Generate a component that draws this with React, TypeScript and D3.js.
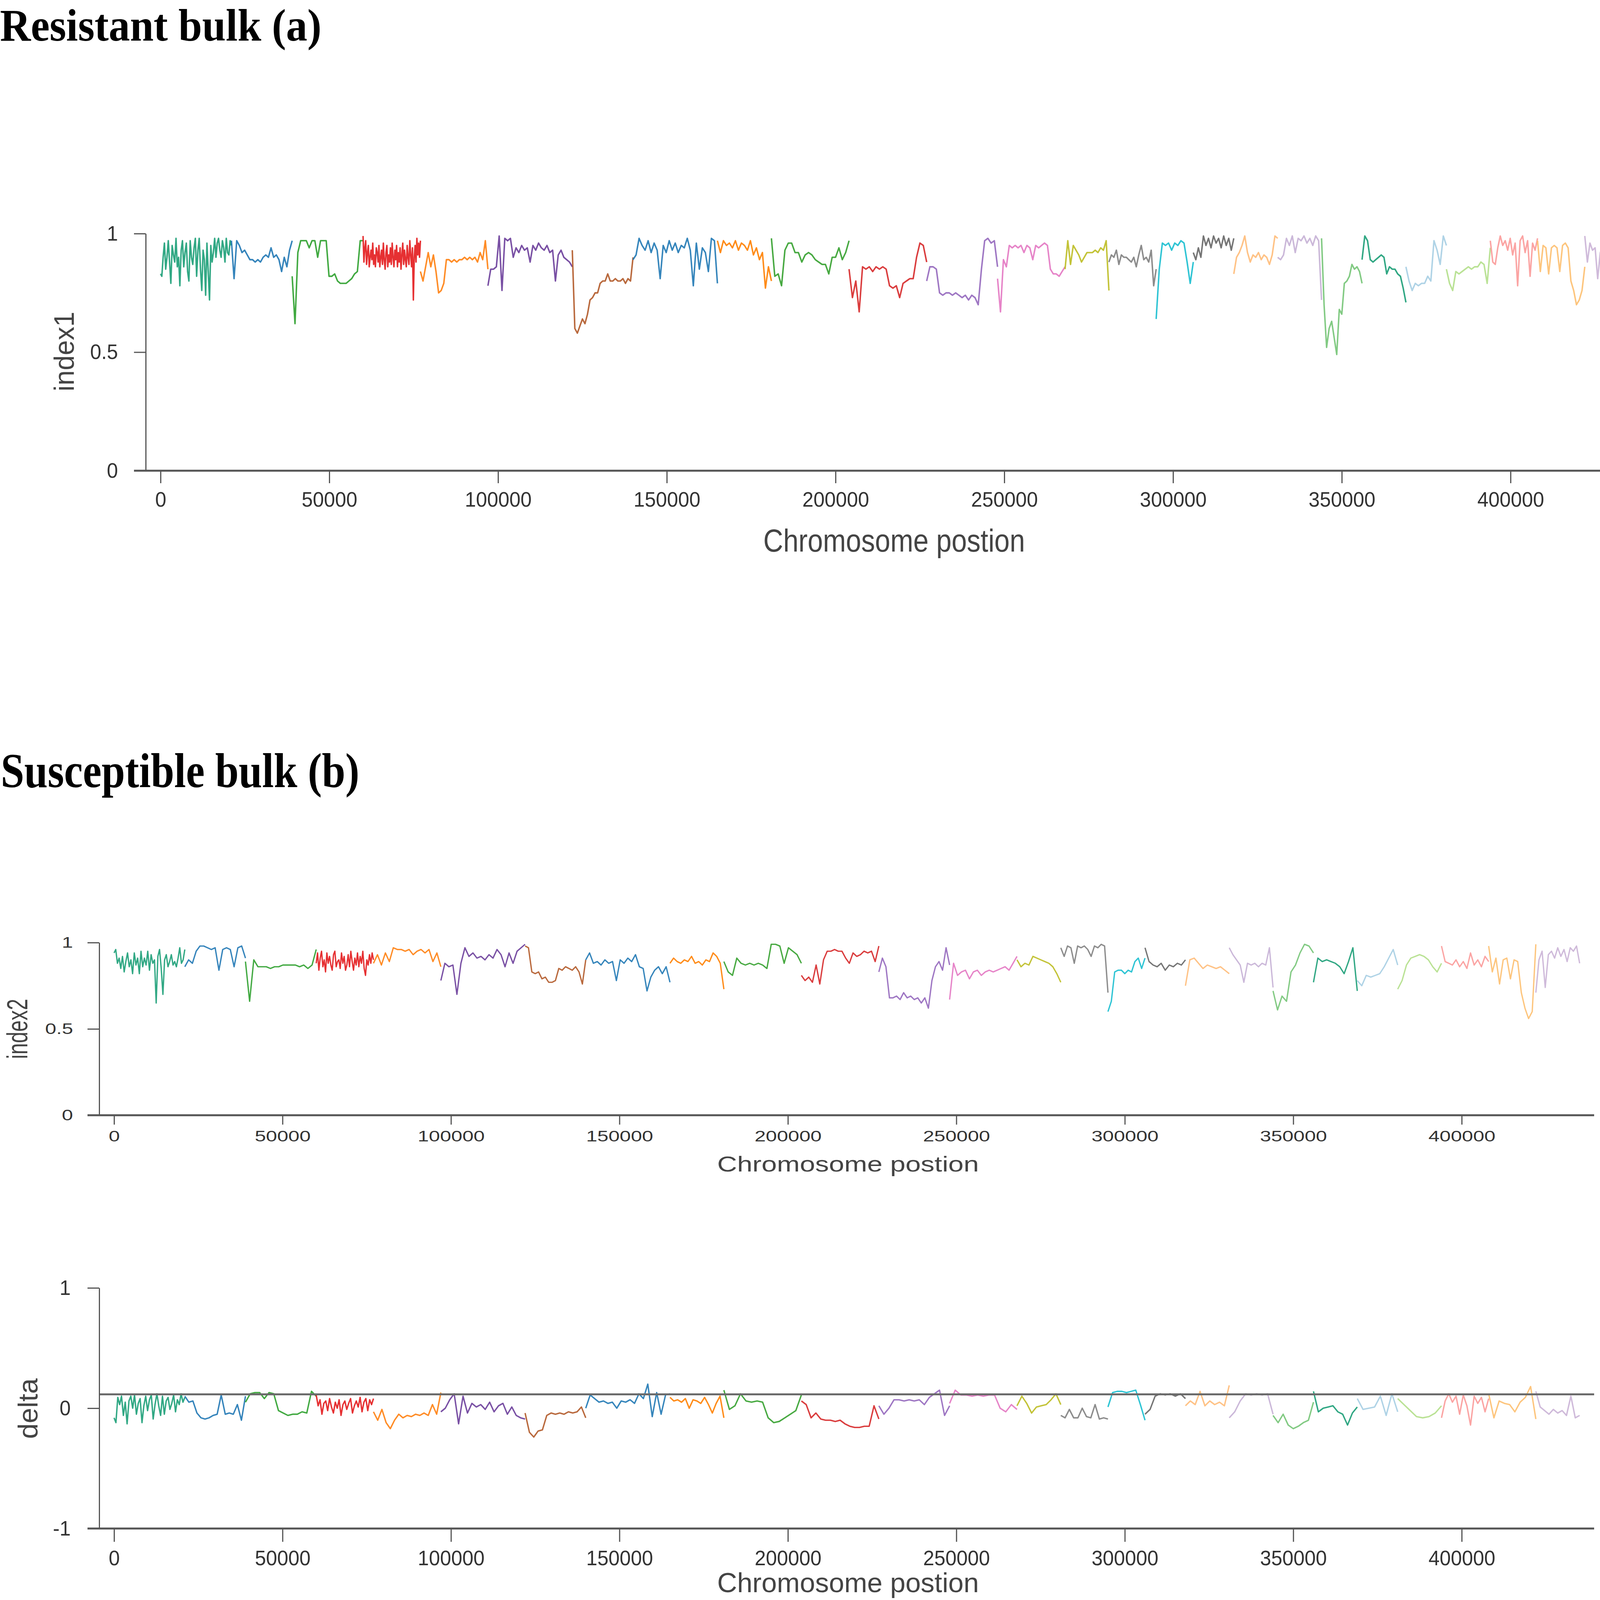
import * as d3 from "d3";
import { useEffect, useRef } from "react";

// chromosome spans (bp) and colours
const chromStart = [0, 21000, 39000, 60000, 77000, 97000, 122000, 140000, 165000, 181000, 204000, 227000, 248000, 268000, 281000, 295000, 306000, 318000, 331000, 344000, 356000, 369000, 381000, 394000, 408000, 422000];
const chromEnd = [21000, 39000, 60000, 77000, 97000, 122000, 140000, 165000, 181000, 204000, 227000, 248000, 268000, 281000, 295000, 306000, 318000, 331000, 344000, 356000, 369000, 381000, 394000, 408000, 422000, 435000];
const chromColors = ["#1b9e77", "#1f77b4", "#2ca02c", "#e31a1c", "#ff7f0e", "#6a3d9a", "#b15928", "#1f78b4", "#ff7f00", "#33a02c", "#d62728", "#9467bd", "#e377c2", "#bcbd22", "#7f7f7f", "#17becf", "#666666", "#ffbb78", "#c5b0d5", "#74c476", "#199d76", "#a6cee3", "#b2df8a", "#fb9a99", "#fdbf6f", "#cab2d6"];

const xTicks = [0, 50000, 100000, 150000, 200000, 250000, 300000, 350000, 400000];

const index1 = [
  [0.83, 0.82, 0.90, 0.96, 0.85, 0.90, 0.97, 0.88, 0.79, 0.95, 0.91, 0.88, 0.98, 0.86, 0.90, 0.78, 0.93, 0.97, 0.86, 0.92, 0.96, 0.84, 0.80, 0.97, 0.90, 0.87, 0.94, 0.98, 0.82, 0.93, 0.98, 0.85, 0.76, 0.93, 0.89, 0.74, 0.96, 0.84, 0.72, 0.95, 0.88, 0.92, 0.98, 0.90, 0.96, 0.98, 0.93, 0.90, 0.97, 0.94, 0.88, 0.98, 0.92, 0.91, 0.97, 0.95],
  [0.97, 0.81, 0.97, 0.95, 0.92, 0.93, 0.91, 0.89, 0.89, 0.88, 0.89, 0.88, 0.90, 0.91, 0.90, 0.94, 0.90, 0.91, 0.89, 0.84, 0.90, 0.86, 0.93, 0.97],
  [0.82, 0.62, 0.92, 0.97, 0.97, 0.97, 0.94, 0.97, 0.97, 0.90, 0.97, 0.97, 0.97, 0.82, 0.82, 0.83, 0.80, 0.79, 0.79, 0.79, 0.80, 0.81, 0.83, 0.84, 0.97, 0.97],
  [0.99, 0.88, 0.94, 0.97, 0.87, 0.92, 0.95, 0.86, 0.90, 0.93, 0.89, 0.96, 0.87, 0.91, 0.86, 0.94, 0.92, 0.88, 0.95, 0.86, 0.90, 0.93, 0.87, 0.96, 0.89, 0.85, 0.92, 0.95, 0.86, 0.91, 0.88, 0.94, 0.87, 0.96, 0.90, 0.86, 0.93, 0.89, 0.95, 0.86, 0.92, 0.88, 0.94, 0.85, 0.91, 0.96, 0.87, 0.93, 0.89, 0.86, 0.95, 0.90, 0.87, 0.97, 0.91, 0.86, 0.94, 0.72, 0.90, 0.95, 0.88, 0.98, 0.91, 0.96, 0.90, 0.97],
  [0.84, 0.80, 0.86, 0.92, 0.86, 0.91, 0.84, 0.75, 0.76, 0.79, 0.89, 0.89, 0.88, 0.89, 0.88, 0.89, 0.89, 0.90, 0.89, 0.90, 0.89, 0.90, 0.88, 0.92, 0.89, 0.97, 0.85],
  [0.78, 0.85, 0.85, 0.86, 0.99, 0.76, 0.98, 0.97, 0.98, 0.90, 0.94, 0.92, 0.95, 0.93, 0.94, 0.88, 0.95, 0.93, 0.96, 0.94, 0.93, 0.95, 0.92, 0.93, 0.80, 0.91, 0.93, 0.90, 0.89, 0.88, 0.86],
  [0.93, 0.60, 0.58, 0.61, 0.64, 0.62, 0.66, 0.72, 0.73, 0.75, 0.75, 0.79, 0.80, 0.80, 0.83, 0.80, 0.80, 0.81, 0.80, 0.80, 0.81, 0.79, 0.81, 0.80, 0.90],
  [0.89, 0.91, 0.98, 0.95, 0.93, 0.97, 0.92, 0.96, 0.93, 0.81, 0.95, 0.92, 0.97, 0.93, 0.96, 0.92, 0.95, 0.94, 0.98, 0.93, 0.78, 0.96, 0.85, 0.94, 0.92, 0.84, 0.98, 0.97, 0.79],
  [0.97, 0.92, 0.97, 0.95, 0.96, 0.94, 0.97, 0.93, 0.96, 0.95, 0.93, 0.97, 0.91, 0.94, 0.89, 0.92, 0.77, 0.86, 0.80],
  [0.98, 0.82, 0.83, 0.78, 0.93, 0.96, 0.96, 0.92, 0.92, 0.88, 0.91, 0.92, 0.91, 0.89, 0.88, 0.87, 0.87, 0.83, 0.90, 0.90, 0.94, 0.89, 0.92, 0.97],
  [0.85, 0.73, 0.80, 0.67, 0.86, 0.85, 0.86, 0.84, 0.86, 0.85, 0.86, 0.85, 0.78, 0.77, 0.78, 0.73, 0.79, 0.80, 0.81, 0.81, 0.90, 0.96, 0.95, 0.88],
  [0.80, 0.86, 0.86, 0.85, 0.75, 0.74, 0.75, 0.75, 0.74, 0.75, 0.74, 0.73, 0.74, 0.72, 0.74, 0.73, 0.70, 0.85, 0.97, 0.98, 0.96, 0.97, 0.86],
  [0.81, 0.67, 0.89, 0.86, 0.95, 0.94, 0.95, 0.94, 0.95, 0.92, 0.95, 0.94, 0.89, 0.95, 0.94, 0.95, 0.96, 0.95, 0.85, 0.83, 0.83, 0.82, 0.84, 0.86],
  [0.85, 0.97, 0.87, 0.95, 0.93, 0.91, 0.88, 0.90, 0.92, 0.92, 0.92, 0.93, 0.92, 0.94, 0.93, 0.97, 0.76],
  [0.88, 0.91, 0.90, 0.93, 0.87, 0.91, 0.90, 0.90, 0.89, 0.88, 0.90, 0.86, 0.91, 0.95, 0.89, 0.90, 0.88, 0.93, 0.78, 0.85],
  [0.64, 0.85, 0.96, 0.95, 0.96, 0.93, 0.96, 0.95, 0.97, 0.96, 0.88, 0.79, 0.88],
  [0.92, 0.89, 0.94, 0.90, 0.99, 0.95, 0.98, 0.94, 0.99, 0.96, 0.98, 0.94, 0.99, 0.95, 0.98, 0.93, 0.98],
  [0.83, 0.90, 0.92, 0.95, 0.99, 0.92, 0.88, 0.91, 0.90, 0.92, 0.89, 0.91, 0.90, 0.87, 0.91, 0.99, 0.98],
  [0.90, 0.89, 0.91, 0.98, 0.95, 0.99, 0.92, 0.98, 0.97, 0.99, 0.96, 0.98, 0.95, 0.99, 0.97, 0.72],
  [0.98, 0.70, 0.52, 0.60, 0.63, 0.56, 0.49, 0.68, 0.66, 0.79, 0.80, 0.82, 0.87, 0.85, 0.86, 0.84, 0.79],
  [0.89, 0.99, 0.97, 0.89, 0.88, 0.89, 0.90, 0.91, 0.90, 0.83, 0.86, 0.85, 0.85, 0.83, 0.82, 0.77, 0.71],
  [0.86, 0.80, 0.76, 0.79, 0.78, 0.79, 0.79, 0.82, 0.80, 0.97, 0.93, 0.87, 0.99, 0.95],
  [0.85, 0.79, 0.76, 0.84, 0.83, 0.84, 0.85, 0.86, 0.85, 0.86, 0.86, 0.88, 0.87, 0.79, 0.94],
  [0.97, 0.88, 0.87, 0.94, 0.99, 0.95, 0.97, 0.93, 0.98, 0.91, 0.96, 0.78, 0.97, 0.99, 0.92, 0.97, 0.82, 0.96, 0.93, 0.98],
  [0.97, 0.84, 0.95, 0.94, 0.83, 0.94, 0.95, 0.94, 0.84, 0.95, 0.96, 0.94, 0.80, 0.76, 0.70, 0.72, 0.76, 0.86],
  [0.99, 0.88, 0.96, 0.93, 0.94, 0.81, 0.92, 0.95, 0.91, 0.94, 0.92, 0.96, 0.90, 0.93, 0.91, 0.92, 0.90, 0.83],
];

const index2 = [
  [0.94, 0.96, 0.88, 0.91, 0.85, 0.92, 0.83, 0.89, 0.94, 0.86, 0.90, 0.82, 0.94, 0.87, 0.91, 0.82, 0.95, 0.86, 0.91, 0.87, 0.95, 0.84, 0.93, 0.88, 0.90, 0.65, 0.92, 0.96, 0.85, 0.70, 0.90, 0.93, 0.86, 0.89, 0.93, 0.87, 0.89, 0.86, 0.91, 0.97, 0.88, 0.90, 0.96],
  [0.86, 0.90, 0.88, 0.95, 0.98, 0.98, 0.97, 0.96, 0.97, 0.84, 0.96, 0.97, 0.96, 0.86, 0.97, 0.98, 0.91],
  [0.89, 0.66, 0.90, 0.86, 0.86, 0.86, 0.85, 0.86, 0.86, 0.87, 0.87, 0.87, 0.87, 0.86, 0.87, 0.85, 0.87, 0.96],
  [0.88, 0.94, 0.84, 0.91, 0.95, 0.86, 0.90, 0.83, 0.94, 0.88, 0.92, 0.87, 0.84, 0.93, 0.95, 0.86, 0.89, 0.90, 0.85, 0.94, 0.88, 0.92, 0.84, 0.87, 0.93, 0.86, 0.95, 0.89, 0.84, 0.91, 0.87, 0.94, 0.86, 0.92, 0.88, 0.95, 0.85, 0.81, 0.90, 0.87, 0.93, 0.88, 0.94, 0.90],
  [0.88, 0.93, 0.87, 0.94, 0.89, 0.97, 0.96, 0.96, 0.95, 0.96, 0.93, 0.95, 0.96, 0.94, 0.96, 0.89, 0.94, 0.86],
  [0.78, 0.88, 0.86, 0.87, 0.70, 0.88, 0.97, 0.92, 0.94, 0.91, 0.92, 0.90, 0.93, 0.91, 0.96, 0.93, 0.86, 0.94, 0.88, 0.95, 0.97, 0.99],
  [0.98, 0.97, 0.83, 0.82, 0.83, 0.79, 0.80, 0.77, 0.77, 0.78, 0.85, 0.84, 0.86, 0.85, 0.84, 0.86, 0.83, 0.76, 0.90],
  [0.90, 0.94, 0.88, 0.89, 0.87, 0.90, 0.88, 0.89, 0.78, 0.90, 0.88, 0.91, 0.89, 0.93, 0.86, 0.85, 0.72, 0.80, 0.84, 0.86, 0.82, 0.86, 0.77],
  [0.88, 0.91, 0.89, 0.88, 0.90, 0.89, 0.92, 0.88, 0.89, 0.87, 0.90, 0.89, 0.94, 0.92, 0.88, 0.73],
  [0.89, 0.83, 0.81, 0.91, 0.88, 0.87, 0.88, 0.87, 0.88, 0.87, 0.85, 0.99, 0.99, 0.98, 0.88, 0.97, 0.95, 0.93, 0.88],
  [0.81, 0.78, 0.80, 0.77, 0.87, 0.76, 0.90, 0.95, 0.95, 0.96, 0.95, 0.95, 0.91, 0.88, 0.94, 0.92, 0.93, 0.95, 0.94, 0.95, 0.89, 0.98],
  [0.83, 0.91, 0.86, 0.68, 0.68, 0.69, 0.67, 0.71, 0.68, 0.69, 0.67, 0.68, 0.65, 0.68, 0.62, 0.78, 0.86, 0.89, 0.84, 0.97, 0.87],
  [0.67, 0.88, 0.81, 0.83, 0.84, 0.79, 0.83, 0.84, 0.81, 0.83, 0.84, 0.83, 0.84, 0.85, 0.86, 0.84, 0.88, 0.92],
  [0.90, 0.86, 0.88, 0.87, 0.92, 0.91, 0.90, 0.89, 0.88, 0.86, 0.82, 0.77],
  [0.97, 0.92, 0.98, 0.97, 0.88, 0.98, 0.97, 0.98, 0.96, 0.92, 0.98, 0.97, 0.99, 0.98, 0.71],
  [0.60, 0.66, 0.83, 0.84, 0.84, 0.82, 0.84, 0.83, 0.89, 0.91, 0.85, 0.91],
  [0.97, 0.89, 0.87, 0.86, 0.88, 0.84, 0.87, 0.86, 0.88, 0.87, 0.90],
  [0.75, 0.90, 0.91, 0.88, 0.85, 0.87, 0.86, 0.85, 0.86, 0.84, 0.82],
  [0.97, 0.93, 0.90, 0.87, 0.77, 0.88, 0.87, 0.88, 0.86, 0.88, 0.87, 0.97, 0.74],
  [0.72, 0.61, 0.69, 0.66, 0.83, 0.87, 0.94, 0.99, 0.98, 0.94],
  [0.77, 0.91, 0.89, 0.90, 0.89, 0.88, 0.86, 0.82, 0.89, 0.97, 0.72],
  [0.78, 0.75, 0.81, 0.80, 0.81, 0.82, 0.86, 0.91, 0.96, 0.87],
  [0.73, 0.78, 0.87, 0.91, 0.92, 0.93, 0.92, 0.90, 0.86, 0.83, 0.88],
  [0.98, 0.89, 0.88, 0.87, 0.90, 0.86, 0.89, 0.85, 0.94, 0.87, 0.90, 0.86, 0.92, 0.89],
  [0.98, 0.83, 0.91, 0.76, 0.90, 0.91, 0.79, 0.90, 0.89, 0.71, 0.62, 0.56, 0.60, 0.99],
  [0.71, 0.90, 0.95, 0.74, 0.93, 0.95, 0.91, 0.97, 0.92, 0.96, 0.89, 0.97, 0.95, 0.98, 0.88],
];

const delta = [
  [-0.08, -0.12, 0.09, 0.03, 0.10, -0.06, 0.05, -0.13, 0.06, 0.10, 0.00, 0.11, -0.05, 0.04, 0.08, -0.12, 0.02, 0.10, -0.02, 0.07, 0.11, -0.09, 0.03, 0.12, 0.02, -0.06, 0.10, -0.05, 0.06, 0.09, -0.01, 0.04, 0.11, -0.03, 0.07, 0.03, 0.12, 0.05, 0.09],
  [0.10, 0.05, 0.06, -0.04, -0.08, -0.09, -0.08, -0.06, -0.05, 0.11, -0.05, -0.04, -0.05, 0.03, -0.10, 0.10],
  [0.05, 0.12, 0.13, 0.13, 0.08, 0.13, 0.12, -0.02, -0.04, -0.06, -0.05, -0.05, -0.03, -0.04, 0.14, 0.10],
  [0.11, 0.02, 0.07, -0.05, 0.04, 0.06, -0.02, 0.08, 0.01, -0.04, 0.05, 0.00, 0.07, -0.06, 0.03, 0.06, -0.01, 0.04, 0.08, -0.04, 0.02, 0.06, 0.01, 0.09, -0.03, 0.05, 0.08, -0.02, 0.07, 0.03, 0.08],
  [-0.03, -0.10, -0.01, -0.12, -0.17, -0.10, -0.05, -0.08, -0.06, -0.07, -0.05, -0.06, -0.04, -0.06, 0.03, -0.05, 0.13],
  [-0.03, 0.00, 0.07, 0.12, -0.13, 0.10, -0.04, 0.04, 0.01, 0.03, -0.01, 0.05, -0.03, 0.02, 0.04, -0.05, 0.01, -0.06, -0.08, -0.09],
  [-0.04, -0.20, -0.24, -0.19, -0.18, -0.06, -0.04, -0.05, -0.04, -0.05, -0.03, -0.04, -0.03, 0.01, -0.08],
  [0.00, 0.11, 0.08, 0.05, 0.06, 0.04, 0.05, 0.00, 0.06, 0.05, 0.07, 0.04, 0.12, 0.08, 0.20, -0.07, 0.13, -0.05, 0.11, 0.12],
  [0.09, 0.06, 0.07, 0.05, 0.08, 0.00, 0.07, 0.06, 0.04, 0.09, 0.03, -0.04, 0.04, 0.10, -0.08],
  [0.15, -0.01, 0.02, 0.12, 0.06, 0.05, 0.06, 0.05, -0.08, -0.12, -0.11, -0.08, -0.05, -0.02, 0.11],
  [0.06, 0.03, -0.08, -0.04, -0.09, -0.10, -0.10, -0.11, -0.10, -0.13, -0.15, -0.16, -0.16, -0.15, -0.15, 0.02, -0.09],
  [0.02, -0.05, 0.00, 0.07, 0.07, 0.06, 0.07, 0.06, 0.07, 0.03, 0.09, 0.12, 0.15, -0.06, 0.02],
  [0.04, 0.15, 0.11, 0.11, 0.10, 0.11, 0.10, 0.11, 0.11, 0.00, -0.03, 0.03, -0.01],
  [0.02, 0.10, 0.04, -0.04, 0.01, 0.02, 0.03, 0.07, 0.12, 0.03],
  [-0.06, -0.08, -0.01, -0.08, -0.08, 0.00, -0.07, -0.08, 0.03, -0.09, -0.08, -0.09],
  [0.01, 0.13, 0.14, 0.14, 0.13, 0.14, 0.15, 0.03, -0.10],
  [-0.05, -0.01, 0.10, 0.12, 0.11, 0.12, 0.10, 0.12, 0.08],
  [0.02, 0.06, 0.03, 0.14, 0.02, 0.06, 0.03, 0.05, 0.02, 0.19],
  [-0.08, -0.03, 0.06, 0.12, 0.11, 0.12, 0.11, 0.12, -0.05],
  [-0.06, -0.12, -0.05, -0.14, -0.17, -0.15, -0.12, -0.10, 0.05],
  [0.14, -0.03, 0.00, 0.01, 0.02, -0.03, -0.05, -0.14, -0.04, 0.01],
  [0.08, -0.01, 0.00, 0.01, 0.10, -0.06, 0.12, -0.03],
  [0.08, 0.03, -0.02, -0.07, -0.08, -0.07, -0.04, 0.02],
  [-0.08, 0.06, 0.12, 0.05, 0.10, -0.05, 0.11, 0.02, -0.14, 0.10, 0.04, 0.09, -0.03, 0.08],
  [0.12, -0.08, 0.06, 0.04, 0.03, -0.03, 0.05, 0.09, 0.18, -0.09],
  [0.14, 0.01, -0.02, -0.05, -0.01, -0.04, -0.02, -0.06, 0.10, -0.08, -0.06],
];

const deltaThreshold = 0.115;

const SANS = "'Liberation Sans', Arial, sans-serif";
const SERIF = "'Liberation Serif', 'Times New Roman', serif";

interface PanelCfg {
  values: number[][];
  yDomain: [number, number];
  yTicks: number[];
  yTop: number;
  yBottom: number;
  axisX: number;
  x0: number;
  x400: number;
  xEnd: number;
  tickFs: number;
  tickSx: number;
  xTickLen: number;
  xPad: number;
  yPad: number;
  xLabel: { cx: number; y: number; fs: number; len: number };
  yLabel: { text: string; x: number; cy: number; fs: number; len: number };
  stroke: number;
  threshold?: number;
}

const panels: PanelCfg[] = [
  {
    values: index1, yDomain: [0, 1], yTicks: [0, 0.5, 1], yTop: 598, yBottom: 1205,
    axisX: 373, x0: 411, x400: 3867, xEnd: 4202,
    tickFs: 54, tickSx: 0.95, xTickLen: 32, xPad: 22, yPad: 41,
    xLabel: { cx: 2289, y: 1412, fs: 82, len: 670 },
    yLabel: { text: "index1", x: 189, cy: 900, fs: 72, len: 204 },
    stroke: 3.8,
  },
  {
    values: index2, yDomain: [0, 1], yTicks: [0, 0.5, 1], yTop: 2413, yBottom: 2855,
    axisX: 254, x0: 292, x400: 3742, xEnd: 4081,
    tickFs: 39, tickSx: 1.32, xTickLen: 24, xPad: 15, yPad: 37,
    xLabel: { cx: 2171, y: 2999, fs: 56, len: 670 },
    yLabel: { text: "index2", x: 70, cy: 2634, fs: 74, len: 154 },
    stroke: 3.4,
  },
  {
    values: delta, yDomain: [-1, 1], yTicks: [-1, 0, 1], yTop: 3297, yBottom: 3913,
    axisX: 254, x0: 292, x400: 3742, xEnd: 4081,
    tickFs: 54, tickSx: 0.95, xTickLen: 34, xPad: 22, yPad: 43,
    // moved up a little so the label stays inside the photographed area
    xLabel: { cx: 2171, y: 4076, fs: 71, len: 670 },
    yLabel: { text: "delta", x: 96, cy: 3606, fs: 71, len: 155 },
    stroke: 3.6,
    threshold: deltaThreshold,
  },
];

function drawPanel(svg: d3.Selection<SVGSVGElement, unknown, null, undefined>, p: PanelCfg) {
  const x = d3.scaleLinear().domain([0, 400000]).range([p.x0, p.x400]);
  const y = d3.scaleLinear().domain(p.yDomain).range([p.yBottom, p.yTop]);
  const g = svg.append("g");

  const line = d3
    .line<[number, number]>()
    .x((d) => x(d[0]))
    .y((d) => y(d[1]));

  p.values.forEach((vals, c) => {
    const s = chromStart[c];
    const e = chromEnd[c];
    const pts: [number, number][] = vals.map((v, i) => [s + ((e - s) * i) / (vals.length - 1), v]);
    g.append("path")
      .attr("d", line(pts))
      .attr("fill", "none")
      .attr("stroke", chromColors[c])
      .attr("stroke-width", p.stroke)
      .attr("stroke-linejoin", "round")
      .attr("opacity", 0.9);
  });

  if (p.threshold !== undefined) {
    g.append("line")
      .attr("x1", p.axisX)
      .attr("x2", p.xEnd)
      .attr("y1", y(p.threshold))
      .attr("y2", y(p.threshold))
      .attr("stroke", "#6b6b6b")
      .attr("stroke-width", 5);
  }

  // x axis
  const xAxis = d3
    .axisBottom(x)
    .tickValues(xTicks)
    .tickSize(p.xTickLen)
    .tickSizeOuter(0)
    .tickPadding(p.xPad)
    .tickFormat((d) => String(d));
  const gx = g.append("g").attr("transform", `translate(0,${p.yBottom})`).call(xAxis);
  gx.select(".domain").remove();
  gx.selectAll("line").attr("stroke", "#555").attr("stroke-width", 3);
  gx.selectAll("text")
    .attr("font-size", p.tickFs)
    .attr("font-family", SANS)
    .attr("fill", "#333")
    .attr("transform", `scale(${p.tickSx},1)`);
  g.append("line")
    .attr("x1", p.axisX - 30)
    .attr("x2", p.xEnd)
    .attr("y1", p.yBottom)
    .attr("y2", p.yBottom)
    .attr("stroke", "#555")
    .attr("stroke-width", 5);

  // y axis
  const yAxis = d3
    .axisLeft(y)
    .tickValues(p.yTicks)
    .tickSize(30)
    .tickSizeOuter(0)
    .tickFormat((d) => String(d));
  const gy = g.append("g").attr("transform", `translate(${p.axisX},0)`).call(yAxis);
  gy.select(".domain").attr("stroke", "#555").attr("stroke-width", 3);
  gy.selectAll("line").attr("stroke", "#555").attr("stroke-width", 3);
  gy.selectAll("text")
    .attr("x", 0)
    .attr("font-size", p.tickFs)
    .attr("font-family", SANS)
    .attr("fill", "#333")
    .attr("transform", `translate(${-p.yPad - 30},0) scale(${p.tickSx},1)`);

  // axis titles
  g.append("text")
    .attr("x", p.xLabel.cx)
    .attr("y", p.xLabel.y)
    .attr("text-anchor", "middle")
    .attr("font-family", SANS)
    .attr("font-size", p.xLabel.fs)
    .attr("fill", "#444")
    .attr("textLength", p.xLabel.len)
    .attr("lengthAdjust", "spacingAndGlyphs")
    .text("Chromosome postion");

  g.append("text")
    .attr("transform", `translate(${p.yLabel.x},${p.yLabel.cy}) rotate(-90)`)
    .attr("text-anchor", "middle")
    .attr("font-family", SANS)
    .attr("font-size", p.yLabel.fs)
    .attr("fill", "#444")
    .attr("textLength", p.yLabel.len)
    .attr("lengthAdjust", "spacingAndGlyphs")
    .text(p.yLabel.text);
}

function App() {
  const ref = useRef<SVGSVGElement | null>(null);

  useEffect(() => {
    const svg = d3.select(ref.current as SVGSVGElement);
    svg.selectAll("*").remove();
    svg.append("rect").attr("width", 4202).attr("height", 4131).attr("fill", "#fff");

    svg.append("text")
      .attr("x", 0)
      .attr("y", 104)
      .attr("font-family", SERIF)
      .attr("font-weight", "bold")
      .attr("font-size", 116)
      .attr("textLength", 823)
      .attr("lengthAdjust", "spacingAndGlyphs")
      .text("Resistant bulk (a)");

    svg.append("text")
      .attr("x", 2)
      .attr("y", 2015)
      .attr("font-family", SERIF)
      .attr("font-weight", "bold")
      .attr("font-size", 124)
      .attr("textLength", 918)
      .attr("lengthAdjust", "spacingAndGlyphs")
      .text("Susceptible bulk (b)");

    panels.forEach((p) => drawPanel(svg, p));
  }, []);

  return (
    <svg
      ref={ref}
      width={4202}
      height={4131}
      style={{ position: "absolute", left: 0, top: 0, display: "block" }}
    ></svg>
  );
}

export default App;
